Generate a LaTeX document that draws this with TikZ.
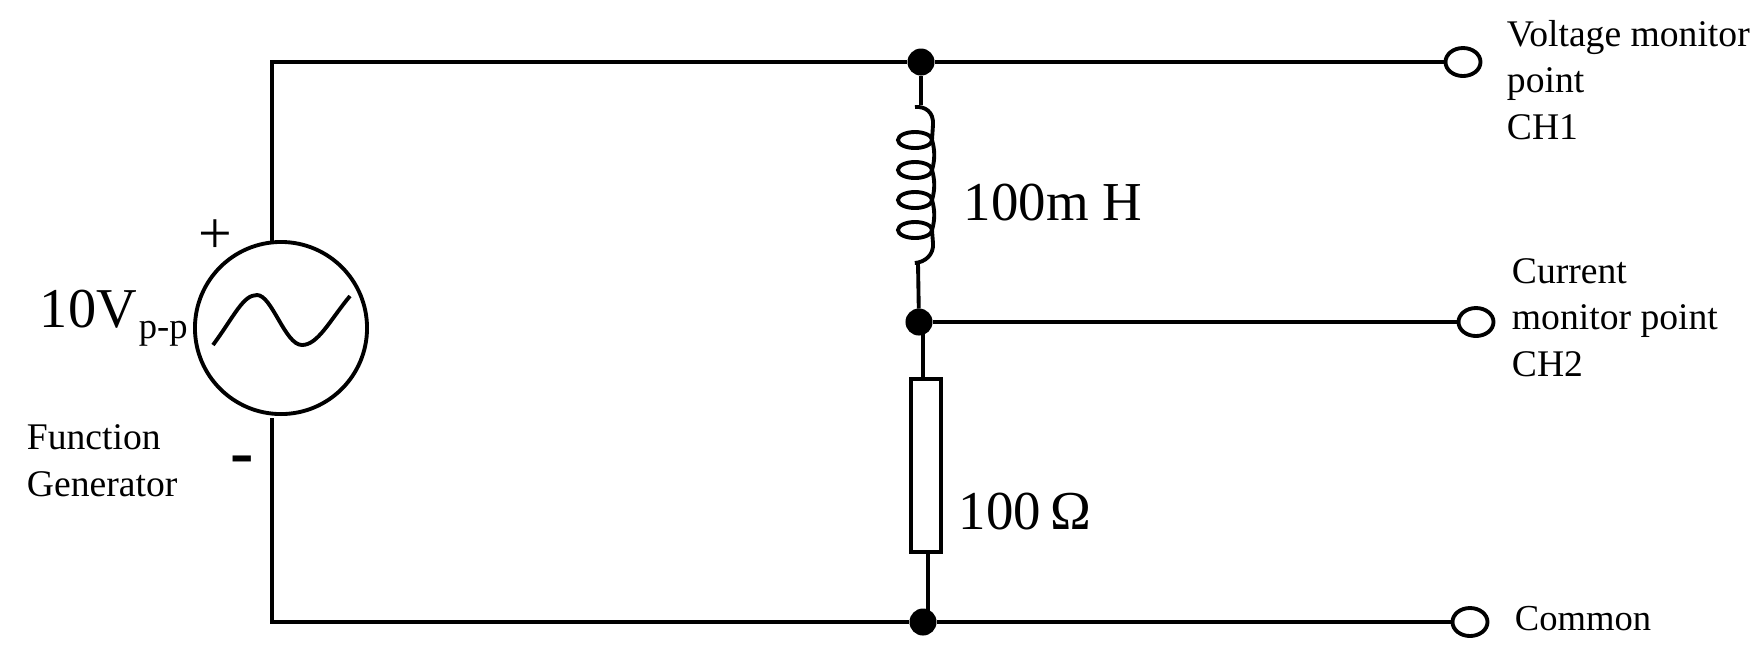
\documentclass[tikz,border=0pt]{standalone}
\usepackage{fontspec}
\setmainfont{Liberation Serif}
\usetikzlibrary{shapes.geometric}

\begin{document}
\begin{tikzpicture}[x=.01cm,y=-.01cm,line width=1.1pt,
    junction/.style={circle,fill=black,inner sep=0pt,outer sep=0pt,minimum size=.27cm},
    terminal/.style={ellipse,draw,fill=white,inner sep=0pt,outer sep=0pt,minimum width=.35cm,minimum height=.28cm},
    small label/.style={anchor=base west,inner sep=0pt,align=left,font=\fontsize{10.7}{13.1}\selectfont},
    big label/.style={anchor=base west,inner sep=0pt,font=\fontsize{15.6}{19}\selectfont}]
    \useasboundingbox (0,0) rectangle (1759,653);

    \node[circle,draw,inner sep=0pt,minimum size=1.72cm] (source) at (281,328) {};
    \node[junction] (topjoin) at (921,62) {};
    \node[junction] (midjoin) at (919,322) {};
    \node[junction] (botjoin) at (923,622) {};
    \node[terminal] (voltage) at (1463,62) {};
    \node[terminal] (current) at (1476,322) {};
    \node[terminal] (common) at (1470,622) {};
    \node[rectangle,draw,inner sep=0pt,outer sep=0pt,minimum width=.30cm,minimum height=1.73cm] (resistor) at (926,465.5) {};

    \coordinate (sourcetop) at (272,243);
    \coordinate (sourcebot) at (272,418);
    \coordinate (coiltop) at (921,105);
    \coordinate (coilbot) at (918,263);
    \coordinate (resin) at (923,379);
    \coordinate (resout) at (928,552);

    \path
        (sourcetop) edge[to path={|- (\tikztotarget)}] (topjoin)
        (sourcebot) edge[to path={|- (\tikztotarget)}] (botjoin)
        (topjoin) edge (voltage)
        (midjoin) edge (current)
        (botjoin) edge (common)
        (topjoin) edge (coiltop)
        (coilbot) edge (midjoin)
        (resin) edge (resin |- midjoin)
        (resout) edge (resout |- botjoin)
        ;

    % coil
    \draw (915,107) .. controls (925,106) and (934,112) .. (933,125) -- (932,140);
    \foreach \y in {140,170,200,230} {
        \draw (915,\y) ellipse (17 and 8);
    }
    \foreach \y in {140,170,200} {
        \draw (932,\y) .. controls (935,\y+10) and (935,\y+20) .. (932,\y+30);
    }
    \draw (932,230) -- (933,243) .. controls (934,255) and (925,262) .. (915,263) -- (coilbot);

    % sine wave inside the source
    \draw (213,345) .. controls (235,315) and (243,295) .. (257,295)
        .. controls (272,295) and (285,345) .. (302,345)
        .. controls (318,345) and (330,320) .. (350,296);

    \node[anchor=base,font=\fontsize{17}{20}\selectfont,inner sep=0pt] (plus) at (215,253) {+};
    \node[anchor=base,font=\bfseries\fontsize{20}{24}\selectfont,inner sep=0pt] (minus) at (242,475) {-};

    \node[anchor=base west,inner sep=0pt,font=\fontsize{16}{19}\selectfont] (amplitude) at (38,327) {10V};
    \node[anchor=base west,inner sep=0pt,font=\fontsize{10.4}{14}\selectfont] (peak) at (137,338) {p-p};
    \node[small label] (generator) at (25,496) {Function\\Generator};
    \node[big label] (coilvalue) at (962,220) {100m H};
    \node[big label] (resvalue) at (957,529) {100\,Ω};
    \node[small label] (voltagetext) at (1505,139) {Voltage monitor\\point\\CH1};
    \node[small label] (currenttext) at (1510,376) {Current\\monitor point\\CH2};
    \node[small label,font=\fontsize{10.4}{13}\selectfont] (commontext) at (1513,630) {Common};
\end{tikzpicture}
\end{document}
